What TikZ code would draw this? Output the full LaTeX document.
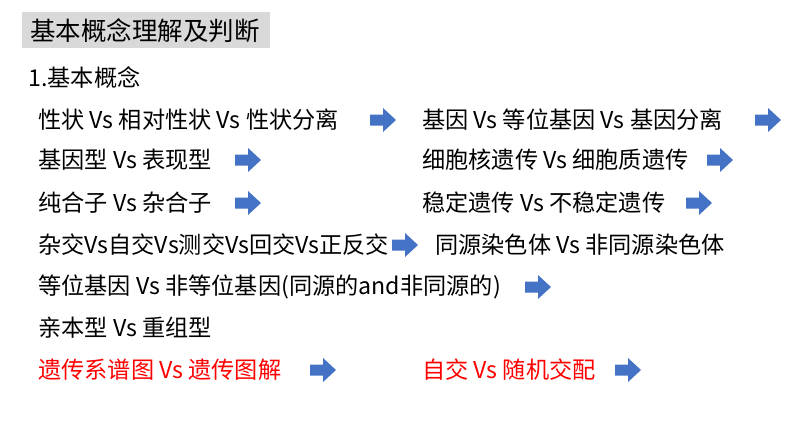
\documentclass[tikz,border=0pt]{standalone}
\usepackage{fontspec}
\setmainfont{Noto Sans CJK SC}
\definecolor{arrowblue}{RGB}{68,114,196}
\definecolor{titlegray}{RGB}{217,217,217}
\tikzset{
  item/.style={anchor=west, inner sep=0pt, font=\fontsize{13.2}{16}\selectfont},
  blkarrow/.pic={\fill[arrowblue] (0,-5.5) -- (13,-5.5) -- (13,-12) -- (26,0)
    -- (13,12) -- (13,5.5) -- (0,5.5) -- cycle;}
}
\begin{document}
\begin{tikzpicture}[x=0.02cm, y=-0.02cm]
  \useasboundingbox (0,0) rectangle (794,447);
  % 标题
  \fill[titlegray] (22,12) rectangle (270,48);
  \node[item, font=\fontsize{14.5}{17}\selectfont] (title) at (30,31) {基本概念理解及判断};
  \node[item] (head) at (28,78) {1.基本概念};
  % 左列
  \node[item] (l1) at (38,120) {性状 Vs 相对性状 Vs 性状分离};
  \node[item] (l2) at (38,160) {基因型 Vs 表现型};
  \node[item] (l3) at (38,203) {纯合子 Vs 杂合子};
  \node[item] (l4) at (38,245) {杂交Vs自交Vs测交Vs回交Vs正反交};
  \node[item] (l5) at (38,287) {等位基因 Vs 非等位基因(同源的and非同源的)};
  \node[item] (l6) at (38,328) {亲本型 Vs 重组型};
  \node[item, red] (l7) at (38,370) {遗传系谱图 Vs 遗传图解};
  % 右列
  \node[item] (r1) at (422,120) {基因 Vs 等位基因 Vs 基因分离};
  \node[item] (r2) at (422,160) {细胞核遗传 Vs 细胞质遗传};
  \node[item] (r3) at (422,203) {稳定遗传 Vs 不稳定遗传};
  \node[item] (r4) at (435,245) {同源染色体 Vs 非同源染色体};
  \node[item, red] (r7) at (422,370) {自交 Vs 随机交配};
  % 箭头
  \pic at (370,120) {blkarrow};
  \pic at (235,160) {blkarrow};
  \pic at (235,203) {blkarrow};
  \pic at (392,245) {blkarrow};
  \pic at (525,287) {blkarrow};
  \pic at (310,370) {blkarrow};
  \pic at (755,120) {blkarrow};
  \pic at (707,160) {blkarrow};
  \pic at (686,203) {blkarrow};
  \pic at (615,370) {blkarrow};
\end{tikzpicture}
\end{document}
